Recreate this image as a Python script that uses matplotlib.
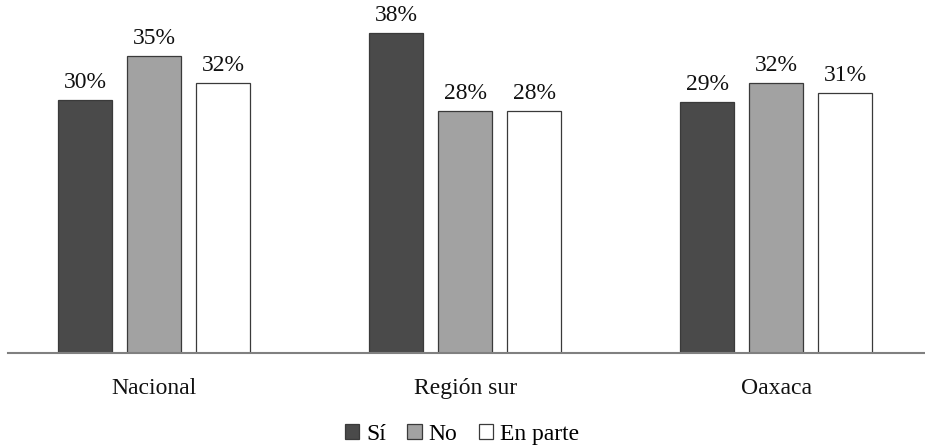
import numpy as np
import matplotlib
matplotlib.use("Agg")
import matplotlib.pyplot as plt
from matplotlib.patches import Patch

# data
categories = ["Nacional", "Región sur", "Oaxaca"]
series_names = ["Sí", "No", "En parte"]
si_values = [30.0, 37.9, 29.7]
no_values = [35.2, 28.7, 32.0]
parte_values = [32.0, 28.7, 30.8]
si_labels = ["30%", "38%", "29%"]
no_labels = ["35%", "28%", "32%"]
parte_labels = ["32%", "28%", "31%"]

# styles
bar_colors = ["#4a4a4a", "#a2a2a2", "#ffffff"]
edge_color = "#3a3a3a"
text_size = 17
bar_width = 0.175
bar_step = 0.222

plt.rcParams["font.family"] = ["Liberation Serif", "DejaVu Serif"]

fig = plt.figure(figsize=(9.25, 4.48), dpi=100, facecolor="white")
ax = fig.add_axes([8 / 925, 95 / 448, 917 / 925, 337.6 / 448])

x = np.arange(len(categories))
all_values = [si_values, no_values, parte_values]
all_labels = [si_labels, no_labels, parte_labels]

for i, (vals, labs) in enumerate(zip(all_values, all_labels)):
    pos = x + (i - 1) * bar_step
    ax.bar(pos, vals, width=bar_width, color=bar_colors[i],
           edgecolor=edge_color, linewidth=0.9, zorder=2)
    for px, v, lab in zip(pos, vals, labs):
        ax.annotate(lab, (px, v), xytext=(0, 5), textcoords="offset points",
                    ha="center", va="bottom", fontsize=text_size, color="#111111")

ax.set_xlim(-0.47, 2.479)
ax.set_ylim(0, 40)

for side in ["top", "right", "left"]:
    ax.spines[side].set_visible(False)
ax.spines["bottom"].set_color("#808080")
ax.spines["bottom"].set_linewidth(1.5)
ax.spines["bottom"].set_zorder(3)
ax.set_yticks([])
ax.set_xticks([])

# category names under the axis
for xi, name in zip(x, categories):
    ax.text(xi, -0.104, name, transform=ax.get_xaxis_transform(),
            ha="center", va="center", fontsize=text_size, color="#111111")

handles = [Patch(facecolor=c, edgecolor=edge_color, linewidth=0.9) for c in bar_colors]
fig.legend(handles, series_names, loc="center", bbox_to_anchor=(462 / 925, 14 / 448),
           ncol=3, frameon=False, fontsize=text_size, handlelength=0.6,
           handleheight=0.6, handletextpad=0.3, columnspacing=0.9)

fig.savefig("out.png", dpi=100, facecolor="white")
